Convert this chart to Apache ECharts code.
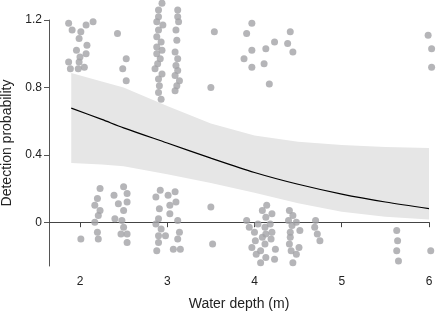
<!DOCTYPE html>
<html>
<head>
<meta charset="utf-8">
<script src="https://cdn.jsdelivr.net/npm/echarts@6/dist/echarts.min.js"></script>
<style>
  html, body { margin: 0; padding: 0; background: #fff; }
  #main { width: 436px; height: 314px; }
</style>
</head>
<body>
<div id="main"></div>
<script>
// fitted curve + confidence band
var depthFit = [1.9, 2.25, 2.5, 3.0, 3.5, 4.0, 4.5, 5.0, 5.5, 6.0];
var probFit  = [0.677, 0.61, 0.56, 0.47, 0.38, 0.295, 0.225, 0.167, 0.12, 0.081];
var probLow  = [0.352, 0.343, 0.332, 0.285, 0.232, 0.175, 0.112, 0.062, 0.032, 0.016];
var probHigh = [0.885, 0.835, 0.80, 0.69, 0.585, 0.515, 0.478, 0.458, 0.447, 0.44];

// jittered detections (y ~ 1) and non-detections (y ~ 0)
var obsDepth = [
  1.87, 1.91, 2.01, 2.07, 2.15, 1.99, 2.08, 1.96, 2.07, 2.00, 1.87, 1.99, 1.89, 1.98, 2.05,
  2.43, 2.53, 2.49, 2.53,
  2.94, 2.90, 2.90, 2.88, 2.95, 2.90, 2.88, 2.93, 2.88, 2.94, 2.88, 2.92, 2.89, 2.86, 2.94, 2.90, 2.91, 2.90, 2.93,
  3.12, 3.12, 3.13, 3.10, 3.11, 3.09, 3.12, 3.10, 3.12, 3.09, 3.14, 3.11, 3.09,
  3.50, 3.54,
  3.97, 3.91, 4.23, 4.38, 4.41, 4.44, 4.13, 3.97, 3.88, 4.11, 3.97, 4.17,
  5.99, 6.03, 6.03,
  2.01, 2.23, 2.20, 2.17, 2.23, 2.21, 2.17, 2.20, 2.21,
  2.39, 2.50, 2.54, 2.44, 2.54, 2.50, 2.40, 2.48, 2.50, 2.47, 2.54, 2.54,
  2.92, 2.87, 3.01, 3.09, 3.03, 3.10, 2.91, 3.03, 2.90, 3.12, 2.87, 2.93, 3.14, 2.90, 2.98, 3.12, 2.90, 3.07, 3.15, 2.88,
  3.50, 3.52,
  3.91, 3.94, 4.00, 4.04, 4.09, 4.14, 4.13, 4.20, 4.18, 4.12, 4.13, 4.20, 4.09, 4.19, 4.01, 4.12, 3.97, 4.07, 4.02, 4.24, 4.13, 4.23, 4.07,
  4.40, 4.44, 4.39, 4.48, 4.43, 4.52, 4.41, 4.41, 4.40, 4.51, 4.42, 4.48, 4.44,
  4.70, 4.69, 4.72, 4.75,
  5.63, 5.64, 5.63, 5.65,
  6.02
];
var obsValue = [
  1.18, 1.14, 1.13, 1.17, 1.19, 1.09, 1.05, 1.02, 1.00, 0.98, 0.95, 0.95, 0.91, 0.91, 0.92,
  1.12, 0.97, 0.91, 0.84,
  1.30, 1.26, 1.22, 1.19, 1.17, 1.14, 1.10, 1.07, 1.04, 1.02, 1.00, 0.97, 0.94, 0.91, 0.88, 0.85, 0.81, 0.77, 0.73,
  1.26, 1.22, 1.19, 1.14, 1.08, 1.01, 0.97, 0.93, 0.90, 0.87, 0.84, 0.81, 0.78,
  0.80, 1.13,
  1.18, 1.12, 1.07, 1.06, 1.13, 1.01, 1.03, 1.02, 0.97, 0.94, 0.92, 0.82,
  1.11, 1.03, 0.92,
  -0.10, 0.20, 0.14, 0.10, 0.07, 0.04, 0.00, -0.06, -0.10,
  0.16, 0.21, 0.17, 0.11, 0.12, 0.07, 0.02, 0.01, -0.03, -0.07, -0.07, -0.12,
  0.19, 0.15, 0.16, 0.18, 0.10, 0.12, 0.08, 0.05, 0.02, 0.01, -0.01, -0.04, -0.06, -0.08, -0.08, -0.10, -0.12, -0.16, -0.16, -0.17,
  0.09, -0.13,
  0.01, -0.03, -0.06, -0.01, 0.07, 0.10, 0.03, 0.05, -0.01, -0.03, -0.07, -0.06, -0.09, -0.10, -0.11, -0.13, -0.15, -0.17, -0.19, -0.16, -0.21, -0.22, -0.24,
  0.07, 0.04, 0.01, 0.00, -0.02, -0.05, -0.06, -0.09, -0.13, -0.15, -0.17, -0.19, -0.24,
  0.01, -0.03, -0.07, -0.11,
  -0.05, -0.11, -0.17, -0.23,
  -0.17
];

var xTicks = [2, 3, 4, 5, 6];
var yTicks = [0, 0.4, 0.8, 1.2];

var myChart = echarts.init(document.getElementById('main'));

var bandData = depthFit.map(function (d, i) { return [d, probLow[i], probHigh[i]]; });
var lineData = depthFit.map(function (d, i) { return [d, probFit[i]]; });
var pointData = obsDepth.map(function (d, i) { return [d, obsValue[i]]; });

var axisFont = { fontFamily: 'Liberation Sans', fontSize: 12, color: '#222' };

var option = {
  animation: false,
  grid: { left: 49, right: 7, top: 20, bottom: 48, outerBoundsMode: 'none', containLabel: false },
  xAxis: {
    type: 'value',
    min: 1.645,
    max: 6,
    name: 'Water depth (m)',
    nameLocation: 'middle',
    nameGap: 31,
    nameTextStyle: { fontFamily: 'Liberation Sans', fontSize: 14, color: '#222' },
    axisLine: { lineStyle: { color: '#444', width: 1 } },
    axisTick: { show: true, length: 5, lineStyle: { color: '#444' }, customValues: xTicks },
    axisLabel: Object.assign({ margin: 10, customValues: xTicks }, axisFont),
    splitLine: { show: false }
  },
  yAxis: {
    type: 'value',
    min: -0.26,
    max: 1.2,
    name: 'Detection probability',
    nameLocation: 'middle',
    nameGap: 29,
    nameTextStyle: { fontFamily: 'Liberation Sans', fontSize: 14, color: '#222' },
    axisLine: { show: true, lineStyle: { color: '#555', width: 1 } },
    axisTick: { show: true, length: 5, lineStyle: { color: '#555' }, customValues: yTicks },
    axisLabel: Object.assign({ margin: 7, customValues: yTicks }, axisFont),
    splitLine: { show: false }
  },
  series: [
    {
      // confidence band
      type: 'custom',
      z: 1,
      data: bandData,
      renderItem: function (params, api) {
        if (params.dataIndex !== 0) return null;
        var pts = [];
        for (var i = 0; i < bandData.length; i++) {
          pts.push(api.coord([bandData[i][0], bandData[i][2]]));
        }
        for (var j = bandData.length - 1; j >= 0; j--) {
          pts.push(api.coord([bandData[j][0], bandData[j][1]]));
        }
        return {
          type: 'polygon',
          shape: { points: pts },
          style: { fill: '#e6e6e6', stroke: null }
        };
      }
    },
    {
      type: 'line',
      z: 2,
      data: lineData,
      smooth: 0.3,
      symbol: 'none',
      lineStyle: { color: '#000', width: 1.2 }
    },
    {
      type: 'scatter',
      z: 3,
      clip: false,
      data: pointData,
      symbol: 'circle',
      symbolSize: 7,
      itemStyle: { color: '#a3a3a6' }
    }
  ]
};

myChart.setOption(option);
</script>
</body>
</html>
